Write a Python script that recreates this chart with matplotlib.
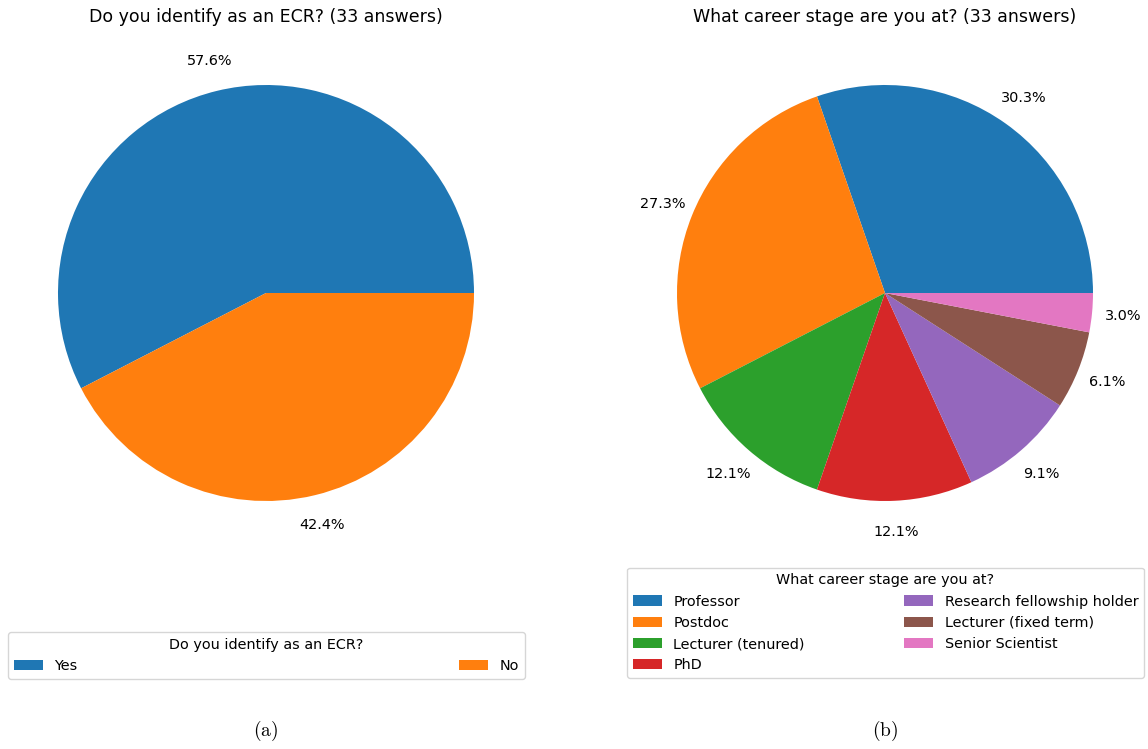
import matplotlib.pyplot as plt

plt.rcParams["mathtext.fontset"] = "cm"
plt.rcParams["font.size"] = 10.4
plt.rcParams["axes.titlesize"] = 12.5

ecr_labels = ["Yes", "No"]
ecr_counts = [19, 14]

stage_labels = [
    "Professor",
    "Postdoc",
    "Lecturer (tenured)",
    "PhD",
    "Research fellowship holder",
    "Lecturer (fixed term)",
    "Senior Scientist",
]
stage_counts = [10, 9, 4, 4, 3, 2, 1]

W, H = 1148, 749
fig = plt.figure(figsize=(W / 100, H / 100), dpi=100)

ax1 = fig.add_axes([6 / W, (H - 553) / H, 520 / W, 520 / H])
ax2 = fig.add_axes([625 / W, (H - 553) / H, 520 / W, 520 / H])

w1, _, _ = ax1.pie(ecr_counts, autopct="%1.1f%%", pctdistance=1.15)
ax1.set_title("Do you identify as an ECR? (33 answers)", pad=8)
fig.legend(w1, ecr_labels, title="Do you identify as an ECR?", ncol=2,
           loc="lower left", mode="expand", borderaxespad=0,
           bbox_to_anchor=(8 / W, (H - 679) / H, 517 / W, 0),
           bbox_transform=fig.transFigure)

w2, _, _ = ax2.pie(stage_counts, autopct="%1.1f%%", pctdistance=1.15)
ax2.set_title("What career stage are you at? (33 answers)", pad=8)
fig.legend(w2, stage_labels, title="What career stage are you at?", ncol=2,
           loc="lower left", mode="expand", borderaxespad=0,
           bbox_to_anchor=(627 / W, (H - 678) / H, 517 / W, 0),
           bbox_transform=fig.transFigure)

fig.text(266 / W, (H - 731) / H, r"$\mathrm{(a)}$", ha="center", va="center", fontsize=14)
fig.text(885 / W, (H - 731) / H, r"$\mathrm{(b)}$", ha="center", va="center", fontsize=14)

fig.savefig("out.png", dpi=100)
